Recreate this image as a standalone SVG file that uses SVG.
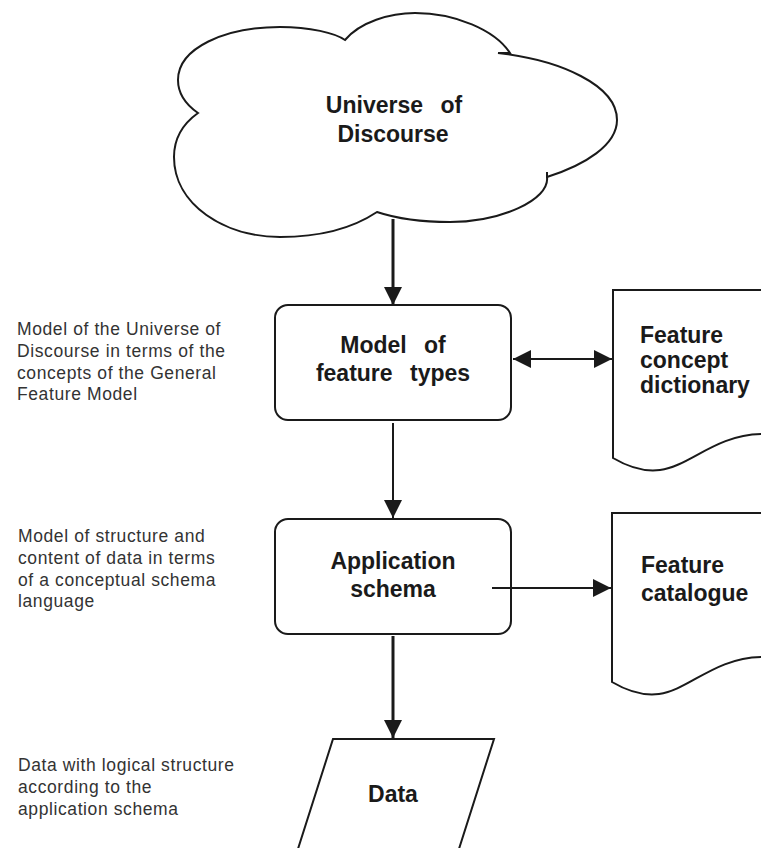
<svg xmlns="http://www.w3.org/2000/svg" width="761" height="848" viewBox="0 0 761 848">
<style>
.shape{fill:#fff;stroke:#1a1a1a;stroke-width:2}
.lbl{font-family:"Liberation Sans",Arial,sans-serif;font-weight:bold;font-size:23px;fill:#1a1a1a}
.mid{text-anchor:middle}
.note{font-family:"Liberation Sans",Arial,sans-serif;font-size:17.5px;letter-spacing:0.6px;fill:#333}
.thick{stroke:#1a1a1a;stroke-width:3;fill:none}
.thin{stroke:#1a1a1a;stroke-width:2;fill:none}
</style>
<defs>
<marker id="ah" markerUnits="userSpaceOnUse" markerWidth="18" markerHeight="18" refX="18" refY="9" orient="auto-start-reverse">
<path d="M0,0 L18,9 L0,18 z" fill="#1a1a1a"/>
</marker>
</defs>
<rect width="761" height="848" fill="#fff"/>
<g id="universe">
<path class="shape" d="M198,113 C185,104 178,92 178,80 C178,48 225,27 280,27 C310,27 335,33 345,40 C360,22 390,13 415,13 C455,13 495,30 510,53 L498,53 C560,60 617,85 617,120 C617,145 585,165 547,177 L547,172 L547,177 C550,200 500,222 450,222 C420,222 395,218 377,212 C350,230 315,237 280,237 C225,237 174,205 174,157 C174,138 184,123 198,113 z"/>
<text class="lbl mid" x="394" y="113" word-spacing="11">Universe of</text>
<text class="lbl mid" x="393" y="142">Discourse</text>
</g>
<g id="model-feature-types">
<rect class="shape" x="275" y="305" width="236" height="115" rx="13"/>
<text class="lbl mid" x="393" y="353" word-spacing="11">Model of</text>
<text class="lbl mid" x="393" y="381" word-spacing="11">feature types</text>
</g>
<g id="feature-concept-dictionary">
<path class="shape" d="M770,290 L613,290 L613,458 C630,468 645,472 660,470 C690,466 715,435 761,434 L770,434"/>
<text class="lbl" x="640" y="343" font-size="22">Feature</text>
<text class="lbl" x="640" y="368" font-size="22">concept</text>
<text class="lbl" x="640" y="393" font-size="22">dictionary</text>
</g>
<g id="application-schema">
<rect class="shape" x="275" y="519" width="236" height="115" rx="13"/>
<text class="lbl mid" x="393" y="569">Application</text>
<text class="lbl mid" x="393" y="597">schema</text>
</g>
<g id="feature-catalogue">
<path class="shape" d="M770,513 L612,513 L612,682 C629,692 644,696 659,694 C689,690 714,658 761,657 L770,657"/>
<text class="lbl" x="641" y="573">Feature</text>
<text class="lbl" x="641" y="601">catalogue</text>
</g>
<g id="data">
<path class="shape" d="M333,739 L494,739 L458,852 L297,852 z"/>
<text class="lbl mid" x="393" y="802">Data</text>
</g>
<g id="notes">
<text class="note" x="17" y="335">Model of the Universe of</text>
<text class="note" x="17" y="357">Discourse in terms of the</text>
<text class="note" x="17" y="378.5">concepts of the General</text>
<text class="note" x="17" y="400">Feature Model</text>
<text class="note" x="18" y="542">Model of structure and</text>
<text class="note" x="18" y="564">content of data in terms</text>
<text class="note" x="18" y="585.5">of a conceptual schema</text>
<text class="note" x="18" y="607">language</text>
<text class="note" x="18" y="771">Data with logical structure</text>
<text class="note" x="18" y="793">according to the</text>
<text class="note" x="18" y="815">application schema</text>
</g>
<g id="connectors">
<line class="thick" x1="393" y1="219" x2="393" y2="305" marker-end="url(#ah)"/>
<line class="thin" x1="393" y1="423" x2="393" y2="518" marker-end="url(#ah)"/>
<line class="thick" x1="393" y1="636" x2="393" y2="738" marker-end="url(#ah)"/>
<line class="thin" x1="513" y1="359" x2="612" y2="359" marker-start="url(#ah)" marker-end="url(#ah)"/>
<line class="thin" x1="492" y1="588" x2="611" y2="588" marker-end="url(#ah)"/>
</g>
</svg>
